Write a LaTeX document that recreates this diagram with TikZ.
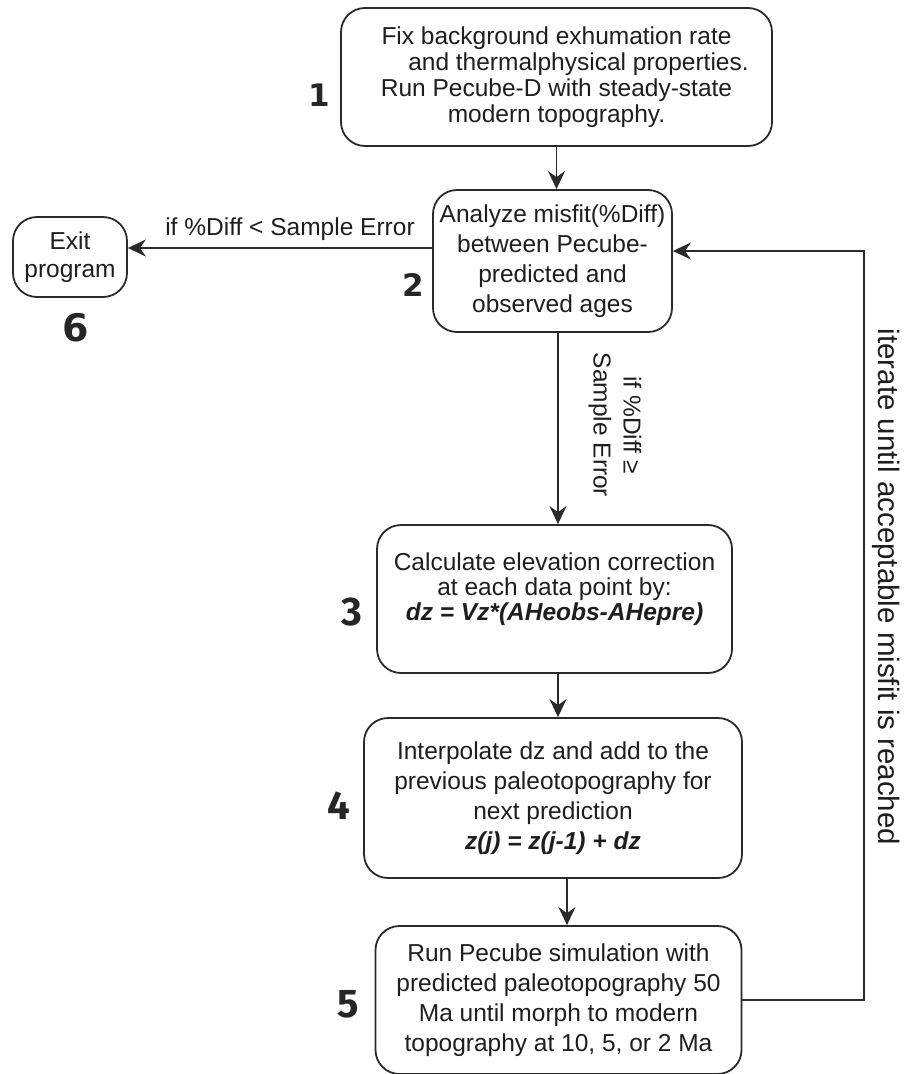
\documentclass[tikz,border=0pt]{standalone}
\usepackage{fontspec}
\setmainfont{Liberation Sans}
\newfontfamily\numfontA{DejaVu Sans}
\newfontfamily\numfontB{Fira Sans}
\usetikzlibrary{arrows.meta}
\definecolor{linec}{HTML}{2A2A2A}
\definecolor{txtc}{HTML}{1E1E1E}
\definecolor{numc}{HTML}{262626}
\begin{document}
\begin{tikzpicture}[x=1pt,y=-1pt,
  box/.style={draw=linec, line width=1.8pt, rounded corners=24pt, inner sep=0pt,
    align=center, text=txtc},
  fA/.style={font=\fontsize{24.5}{26}\selectfont},
  fB/.style={font=\fontsize{24.5}{30}\selectfont},
  fC/.style={font=\fontsize{24.5}{25}\selectfont},
  arr/.style={draw=linec, line width=1.6pt, -{Stealth[length=18pt,width=17pt,inset=6pt]}},
  numsmall/.style={font=\numfontA\bfseries\fontsize{31}{31}\selectfont, text=numc, inner sep=0pt},
  numsix/.style={font=\numfontA\bfseries\fontsize{38}{38}\selectfont, text=numc, inner sep=0pt},
  numbig/.style={font=\numfontB\bfseries\fontsize{40}{40}\selectfont, text=numc, inner sep=0pt},
  lbl/.style={text=txtc, inner sep=0pt, align=center}
]
\useasboundingbox (0,0) rectangle (903,1074);

% boxes
\node[box, fA, minimum width=431pt, minimum height=138pt] (b1) at (556.5,77)
  {Fix background exhumation rate\\\hspace*{44pt}and thermalphysical properties.\\Run Pecube-D with steady-state\\modern topography.};
\node[box, fB, minimum width=239pt, minimum height=142pt] (b2) at (552.5,261)
  {Analyze misfit(\%Diff)\\between Pecube-\\predicted and\\observed ages};
\node[box, font=\fontsize{24.5}{28}\selectfont, minimum width=114pt, minimum height=80pt, rounded corners=24pt] (ex) at (70,257)
  {Exit\\program};
\node[box, fC, minimum width=355pt, minimum height=148pt] (b3) at (554.5,599)
  {Calculate elevation correction\\at each data point by:\\\textbf{\textit{dz = Vz*(AHeobs-AHepre)}}\\\mbox{}};
\node[box, fB, minimum width=378pt, minimum height=160pt] (b4) at (553,798)
  {Interpolate dz and add to the\\previous paleotopography for\\next prediction\\\textbf{\textit{z(j) = z(j-1) + dz}}};
\node[box, fB, minimum width=366pt, minimum height=148pt] (b5) at (558.5,1000)
  {Run Pecube simulation with\\predicted paleotopography 50\\Ma until morph to modern\\topography at 10, 5, or 2 Ma};

% step numbers
\node[numsmall] (n1) at (319,95) {1};
\node[numsmall] (n2) at (413,285) {2};
\node[numbig] (n3) at (352,612) {3};
\node[numbig] (n4) at (339,806) {4};
\node[numbig] (n5) at (348,1004) {5};
\node[numsix] (n6) at (76,328) {6};

% labels
\node[lbl, font=\fontsize{24.5}{26}\selectfont] (l6) at (290,229) {if \%Diff < Sample Error};
\node[lbl, rotate=-90, font=\fontsize{24.5}{30}\selectfont] (l3) at (615,425) {if \%Diff ≥\\Sample Error};
\node[lbl, rotate=-90, font=\fontsize{29.5}{30}\selectfont] (lit) at (886,587) {iterate until acceptable misfit is reached};

% connectors
\coordinate (x558) at (558,0);
\coordinate (x567) at (567,0);
\coordinate (xr) at (864,0);
\draw[arr] (b1.south) -- (b1.south |- b2.north);
\draw[arr] (b2.south -| x558) -- (b3.north -| x558);
\draw[arr] (b3.south -| x558) -- (b4.north -| x558);
\draw[arr] (b4.south -| x567) -- (b5.north -| x567);
\draw[arr] ([yshift=13pt]b2.west) -- ([yshift=13pt]b2.west -| ex.east);
\draw[arr] (b5.east) -- (b5.east -| xr) -- ([yshift=10pt]b2.east -| xr) -- ([yshift=10pt]b2.east);
\end{tikzpicture}
\end{document}
